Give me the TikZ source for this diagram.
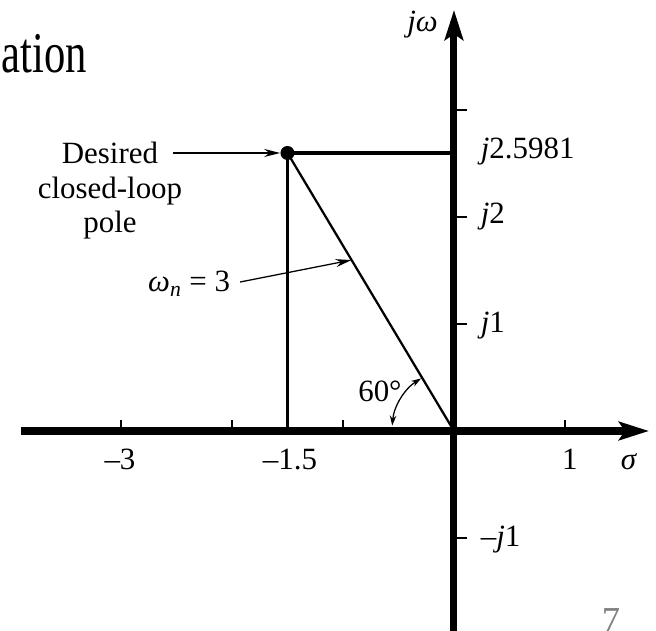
\documentclass[tikz,border=0pt]{standalone}
\usepackage{graphicx}
\usepackage{fontspec}
\setmainfont{Liberation Serif}
\usetikzlibrary{arrows.meta, calc, positioning}

\begin{document}
\begin{tikzpicture}[
    x=2.775cm, y=2.675cm,
    axis/.style={line width=5pt, -{Stealth[length=7.5mm, width=4.6mm, inset=1.5mm]}}, % thick s-plane axes
    tickmark/.style={line width=1pt},
    polebar/.style={line width=2.3pt},
    ptr/.style={line width=0.9pt, -{Stealth[length=4mm, width=2mm]}}, % pointer arrows
    angarr/.style={line width=0.9pt, {Stealth[length=2.5mm, width=1.6mm]}-{Stealth[length=2.5mm, width=1.6mm]}},
    lbl/.style={font=\fontsize{22}{24.5}\selectfont, inner sep=0pt},
    dot/.style={fill=black, circle, inner sep=0pt, minimum size=3.5mm} % pole marker
]

% Canvas (matches the slide crop)
\useasboundingbox (-4.090,-1.860) rectangle (1.820,4.028);

% Slide title fragment and page number
\node[lbl, font=\fontsize{41}{44}\selectfont, anchor=base east] (title) at (-3.306,3.346) {\scalebox{0.74}[1]{ation}};
\node[lbl, font=\fontsize{26}{28}\selectfont, text=gray, anchor=north] (pagenum) at (1.414,-1.654) {7};

% Origin and desired pole
\coordinate (O) at (0,0);
\node[dot] (pole) at (-1.5,2.5981) {};

% Construction lines from the pole
\draw[polebar] (pole.center) -- (pole.center -| O);
\draw[polebar] (pole.center) -- (pole.center |- O);
\draw[line width=1.6pt] (pole.center) -- (O);

% Axes
\draw[axis] (-3.90,0) -- (1.757,0);
\draw[axis] (0,-1.95) -- (0,3.935);

% Ticks
\foreach \x in {-3,-2,-1,1}
    \draw[tickmark] (\x,0) -- (\x,0.1);
\foreach \y in {-1,1,2,3}
    \draw[tickmark] (0,\y) -- (0.115,\y);

% Axis labels
\node[lbl, anchor=base] (xm3) at (-3.009,-0.364) {–3};
\node[lbl, anchor=base] (xm15) at (-1.477,-0.364) {–1.5};
\node[lbl, anchor=base] (xp1) at (1.045,-0.364) {1};
\node[lbl, anchor=base] (sig) at (1.577,-0.364) {\textit{σ}};
\node[lbl, anchor=base east] (jw) at (-0.144,3.729) {\textit{jω}};
\node[lbl, anchor=base west] (ypole) at (0.24,2.55) {\textit{j}2.5981};
\node[lbl, anchor=base west] (yp2) at (0.24,1.935) {\textit{j}2};
\node[lbl, anchor=base west] (yp1) at (0.24,0.916) {\textit{j}1};
\node[lbl, anchor=base west] (ym1) at (0.24,-1.084) {–\textit{j}1};

% Annotations
\node[lbl, align=center] (desc) at (-3.099,2.243) {Desired\\closed-loop\\pole};
\coordinate (dstart) at (-2.532,2.5981);
\draw[ptr] (dstart) -- (pole);

\node[lbl, anchor=base west] (wn) at (-2.757,1.299) {\textit{ω}\textsubscript{\textit{n}} = 3};
\coordinate (wnpt) at ($(O)!0.615!(pole.center)$);
\draw[ptr, shorten <=2.5mm] (wn.east) -- (wnpt);

% 60 degree angle
\draw[angarr] ([shift={(175:1.55cm)}]O) arc[start angle=175, end angle=122, radius=1.55cm];
\node[lbl, anchor=base] (ang) at (-0.667,0.271) {60°};

\end{tikzpicture}
\end{document}
